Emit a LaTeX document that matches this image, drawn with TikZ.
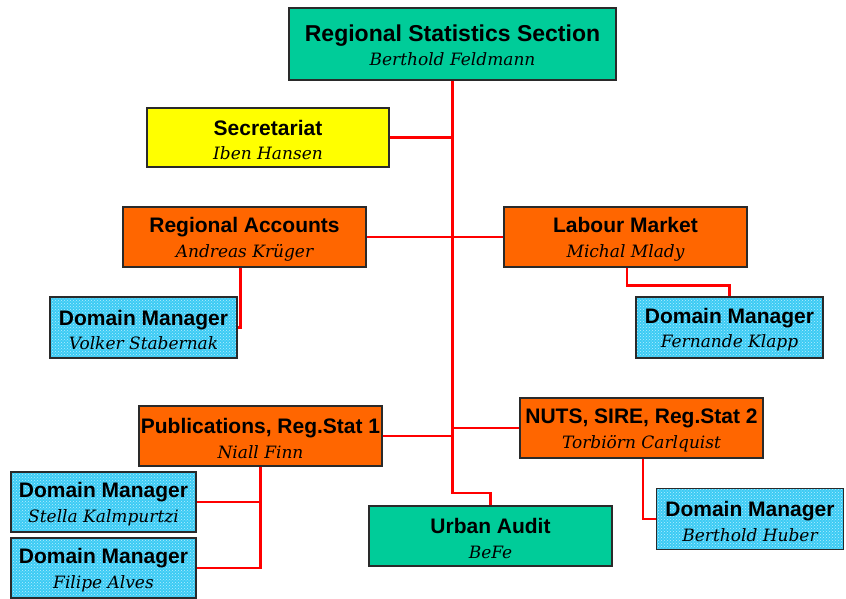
\documentclass[tikz,border=0pt]{standalone}
\usepackage{fontspec}
\usepackage{tikz}
\usetikzlibrary{patterns}
\setmainfont{DejaVu Serif}
\newfontfamily\headfont{Liberation Sans}
\definecolor{unitgreen}{HTML}{00CC99}
\definecolor{unitorange}{HTML}{FF6600}
\definecolor{unityellow}{HTML}{FFFF00}
\definecolor{dmblue}{HTML}{3CCBF4}
\definecolor{dmspeck}{HTML}{B5EEFF}
\definecolor{edge}{HTML}{2A2A2A}
\definecolor{linkred}{HTML}{FF0000}
\newcommand{\unit}[2]{\rule{0pt}{20pt}{\headfont\bfseries\fontsize{21}{24}\selectfont #1}\\{\itshape #2}}
\tikzset{
  unitbox/.style={draw=edge, line width=1.1pt, align=center, inner sep=0pt,
                  font=\fontsize{17}{24.5}\selectfont,
                  minimum width=243pt, minimum height=60pt},
  headbox/.style={unitbox, fill=unitgreen, minimum width=327pt, minimum height=72pt},
  greenbox/.style={unitbox, fill=unitgreen},
  orangebox/.style={unitbox, fill=unitorange},
  yellowbox/.style={unitbox, fill=unityellow, minimum width=242pt, minimum height=59pt},
  dmbox/.style={unitbox, minimum width=187pt, minimum height=61pt,
                preaction={fill=dmblue}, pattern=crosshatch dots, pattern color=dmspeck},
  link/.style={draw=linkred, line width=2.2pt},
}

\begin{document}
\begin{tikzpicture}[x=1pt, y=-1pt]
  \useasboundingbox (0,0) rectangle (846,599);

  \node[headbox] (head) at (452.5,44)
    {\rule{0pt}{19pt}{\headfont\bfseries\fontsize{23}{25}\selectfont Regional Statistics Section}\\{\itshape Berthold Feldmann}};
  \node[yellowbox] (secr) at (268,137.5) {\unit{Secretariat}{Iben Hansen}};
  \node[orangebox] (regacc) at (244.5,237) {\unit{Regional Accounts}{Andreas Krüger}};
  \node[orangebox] (labour) at (625.5,237) {\unit{Labour Market}{Michal Mlady}};
  \node[dmbox] (dmvolker) at (143.5,327.5) {\unit{Domain Manager}{Volker Stabernak}};
  \node[dmbox] (dmklapp) at (729.5,327.5) {\unit{Domain Manager}{Fernande Klapp}};
  \node[orangebox] (pubs) at (260.5,436) {\unit{Publications, Reg.Stat 1}{Niall Finn}};
  \node[orangebox] (nuts) at (641.5,428) {\unit{NUTS, SIRE, Reg.Stat 2}{Torbiörn Carlquist}};
  \node[dmbox, minimum width=185pt, minimum height=60pt] (dmstella) at (103.5,502) {\unit{Domain Manager}{Stella Kalmpurtzi}};
  \node[dmbox, minimum width=185pt, minimum height=60pt] (dmfilipe) at (103.5,568) {\unit{Domain Manager}{Filipe Alves}};
  \node[greenbox] (urban) at (490.5,536) {\unit{Urban Audit}{BeFe}};
  \node[dmbox] (dmhuber) at (750,519) {\unit{Domain Manager}{Berthold Huber}};

  \coordinate (trunkfoot) at (490.5,493);
  \draw[link] (head.south) |- (trunkfoot) -- (urban.north);
  \draw[link] (secr.east) -- (secr.east -| head.south);
  \draw[link] (regacc.east) -- (labour.west);
  \draw[link] ([xshift=-4pt]regacc.south) |- (dmvolker.east);
  \draw[link] ([xshift=1.5pt]labour.south) -- ++(0,18) -| (dmklapp.north);
  \draw[link] (pubs.east) -- (pubs.east -| head.south);
  \draw[link] (nuts.west) -- (nuts.west -| head.south);
  \draw[link] (pubs.south) |- (dmstella.east);
  \draw[link] (pubs.south) |- (dmfilipe.east);
  \draw[link] ([xshift=1.5pt]nuts.south) |- (dmhuber.west);
\end{tikzpicture}
\end{document}
